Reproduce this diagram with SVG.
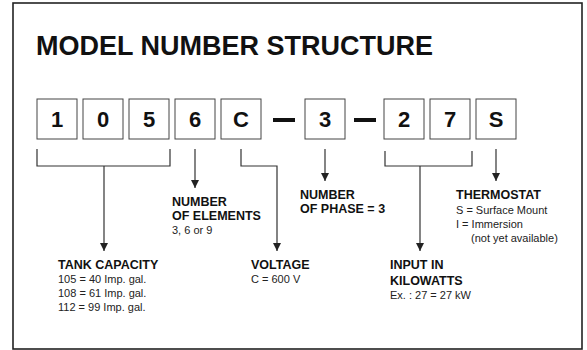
<svg xmlns="http://www.w3.org/2000/svg" width="587" height="350" viewBox="0 0 587 350">
<defs>
<style>
.frame{fill:#fff;stroke:#222;stroke-width:1.6}
.box{fill:#fff;stroke:#444;stroke-width:1}
.dig{font-family:"Liberation Sans",Arial,sans-serif;font-weight:bold;font-size:22px;fill:#111;text-anchor:middle}
.title{font-family:"Liberation Sans",Arial,sans-serif;font-weight:bold;font-size:27px;fill:#111}
.h{font-family:"Liberation Sans",Arial,sans-serif;font-weight:bold;font-size:12.5px;fill:#111}
.t{font-family:"Liberation Sans",Arial,sans-serif;font-size:11px;fill:#222}
.ln{fill:none;stroke:#333;stroke-width:1.2}
.dash{fill:#111}
</style>
<marker id="ah" viewBox="0 0 8 10" refX="8" refY="5" markerWidth="8" markerHeight="10" markerUnits="userSpaceOnUse" orient="auto">
<path d="M0,1 L8,5 L0,9 Z" fill="#222"/>
</marker>
</defs>
<rect class="frame" x="13" y="3" width="569" height="346"/>
<text class="title" x="36" y="55">MODEL NUMBER STRUCTURE</text>
<g id="digits">
<g id="d1"><rect class="box" x="37" y="99" width="40" height="40"/><text class="dig" x="57" y="127">1</text></g>
<g id="d2"><rect class="box" x="83" y="99" width="40" height="40"/><text class="dig" x="103" y="127">0</text></g>
<g id="d3"><rect class="box" x="129" y="99" width="40" height="40"/><text class="dig" x="149" y="127">5</text></g>
<g id="d4"><rect class="box" x="175" y="99" width="40" height="40"/><text class="dig" x="195" y="127">6</text></g>
<g id="d5"><rect class="box" x="221" y="99" width="40" height="40"/><text class="dig" x="241" y="127">C</text></g>
<rect class="dash" x="273" y="118" width="22" height="4"/>
<g id="d6"><rect class="box" x="305" y="99" width="40" height="40"/><text class="dig" x="325" y="127">3</text></g>
<rect class="dash" x="354" y="118" width="22" height="4"/>
<g id="d7"><rect class="box" x="384" y="99" width="40" height="40"/><text class="dig" x="404" y="127">2</text></g>
<g id="d8"><rect class="box" x="430" y="99" width="40" height="40"/><text class="dig" x="450" y="127">7</text></g>
<g id="d9"><rect class="box" x="476" y="99" width="40" height="40"/><text class="dig" x="496" y="127">S</text></g>
</g>
<g id="connectors">
<path class="ln" d="M37,149 V166 H170 V149"/>
<path class="ln" d="M104,166 V251" marker-end="url(#ah)"/>
<path class="ln" d="M195,149 V188" marker-end="url(#ah)"/>
<path class="ln" d="M241,149 V166 H277 V251" marker-end="url(#ah)"/>
<path class="ln" d="M325,149 V181" marker-end="url(#ah)"/>
<path class="ln" d="M385,151 V166 H472 V151"/>
<path class="ln" d="M420,166 V251" marker-end="url(#ah)"/>
<path class="ln" d="M496,149 V181" marker-end="url(#ah)"/>
</g>
<g id="elements">
<text class="h" x="172" y="206">NUMBER</text>
<text class="h" x="172" y="220">OF ELEMENTS</text>
<text class="t" x="172" y="234">3, 6 or 9</text>
</g>
<g id="phase">
<text class="h" x="300" y="199">NUMBER</text>
<text class="h" x="300" y="213">OF PHASE = 3</text>
</g>
<g id="thermostat">
<text class="h" x="456" y="199">THERMOSTAT</text>
<text class="t" x="456" y="214">S = Surface Mount</text>
<text class="t" x="456" y="228">I = Immersion</text>
<text class="t" x="471" y="242">(not yet available)</text>
</g>
<g id="tank">
<text class="h" x="58" y="269">TANK CAPACITY</text>
<text class="t" x="58" y="283">105 = 40 Imp. gal.</text>
<text class="t" x="58" y="297">108 = 61 Imp. gal.</text>
<text class="t" x="58" y="311">112 = 99 Imp. gal.</text>
</g>
<g id="voltage">
<text class="h" x="251" y="269">VOLTAGE</text>
<text class="t" x="251" y="283">C = 600 V</text>
</g>
<g id="input">
<text class="h" x="390" y="269">INPUT IN</text>
<text class="h" x="390" y="285">KILOWATTS</text>
<text class="t" x="390" y="299">Ex. : 27 = 27 kW</text>
</g>
</svg>
